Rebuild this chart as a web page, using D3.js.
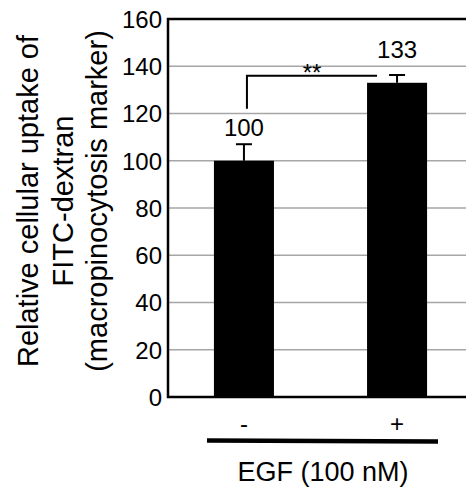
<!DOCTYPE html>
<html>
<head>
<meta charset="utf-8">
<script src="https://cdn.jsdelivr.net/npm/d3@7"></script>
<style>
  body { margin: 0; background: #fff; }
  svg { display: block; font-family: "Liberation Sans", Arial, sans-serif; }
</style>
</head>
<body>
<div id="chart"></div>
<script>
const groups = ['-', '+']
const means = [100, 133]
const errors = [7, 3.3]
const yTicks = [0, 20, 40, 60, 80, 100, 120, 140, 160]
const titleLines = ['Relative cellular uptake of', 'FITC-dextran', '(macropinocytosis marker)']
const xTitle = 'EGF (100 nM)'
const sigLabel = '**'

const width = 466
const height = 489
const plotLeft = 168, plotTop = 19, plotBottom = 397, plotRight = 473

const svg = d3.select('#chart')
  .append('svg')
  .attr('width', width)
  .attr('height', height)

const y = d3.scaleLinear()
  .domain([0, 160])
  .range([plotBottom, plotTop])

const x = d3.scaleBand()
  .domain(groups)
  .range([plotLeft, plotRight])
  .paddingInner(0.608)
  .paddingOuter(0.3)

// gridlines
svg.append('g')
  .selectAll('line')
  .data(yTicks.filter(d => d > 0 && d < 160))
  .enter()
  .append('line')
  .attr('x1', plotLeft)
  .attr('x2', plotRight)
  .attr('y1', d => y(d))
  .attr('y2', d => y(d))
  .attr('stroke', '#a6a6a6')
  .attr('stroke-width', 1.5)

// y axis labels
const yAxis = d3.axisLeft(y).tickValues(yTicks).tickSize(0).tickPadding(6)
const gy = svg.append('g')
  .attr('transform', `translate(${plotLeft}, 0)`)
  .call(yAxis)
gy.select('.domain').remove()
gy.selectAll('text')
  .attr('font-size', 24)
  .attr('font-family', '"Liberation Sans", Arial, sans-serif')
  .attr('fill', '#000')
  .attr('dy', '0.35em')

// bars
svg.append('g')
  .selectAll('rect')
  .data(means)
  .enter()
  .append('rect')
  .attr('x', (d, i) => x(groups[i]))
  .attr('y', d => y(d))
  .attr('width', x.bandwidth())
  .attr('height', d => plotBottom - y(d))
  .attr('fill', '#000')

// error bars (upper only)
const eb = svg.append('g')
  .attr('stroke', '#000')
  .attr('stroke-width', 2)
means.forEach((m, i) => {
  const cx = x(groups[i]) + x.bandwidth() / 2
  eb.append('line')
    .attr('x1', cx).attr('x2', cx)
    .attr('y1', y(m)).attr('y2', y(m + errors[i]))
  eb.append('line')
    .attr('x1', cx - 8).attr('x2', cx + 8)
    .attr('y1', y(m + errors[i])).attr('y2', y(m + errors[i]))
})

// value labels
svg.append('g')
  .selectAll('text')
  .data(means)
  .enter()
  .append('text')
  .attr('x', (d, i) => x(groups[i]) + x.bandwidth() / 2)
  .attr('y', d => y(d) - 25)
  .attr('text-anchor', 'middle')
  .attr('font-size', 24)
  .text(d => d)

// frame: left, top, bottom
svg.append('path')
  .attr('d', `M${plotRight},${plotTop}H${plotLeft}V${plotBottom}H${plotRight}`)
  .attr('fill', 'none')
  .attr('stroke', '#000')
  .attr('stroke-width', 2.5)

// significance bracket
const c1 = x(groups[0]) + x.bandwidth() / 2 + 3
const c2 = x(groups[1]) + x.bandwidth() / 2 - 20
const bracketY = y(136)
svg.append('path')
  .attr('d', `M${c1},${y(122)}V${bracketY}H${c2}`)
  .attr('fill', 'none')
  .attr('stroke', '#000')
  .attr('stroke-width', 2)
svg.append('text')
  .attr('x', (c1 + c2) / 2)
  .attr('y', bracketY + 5)
  .attr('text-anchor', 'middle')
  .attr('font-size', 24)
  .text(sigLabel)

// x category labels
svg.append('g')
  .selectAll('text')
  .data(groups)
  .enter()
  .append('text')
  .attr('x', d => x(d) + x.bandwidth() / 2)
  .attr('y', 432)
  .attr('text-anchor', 'middle')
  .attr('font-size', 24)
  .text(d => d)

// EGF bar under categories
svg.append('line')
  .attr('x1', 207).attr('x2', 438)
  .attr('y1', 440.5).attr('y2', 441.5)
  .attr('stroke', '#000')
  .attr('stroke-width', 4.5)

svg.append('text')
  .attr('x', 323)
  .attr('y', 481)
  .attr('text-anchor', 'middle')
  .attr('font-size', 27)
  .text(xTitle)

// y title
svg.append('g')
  .attr('transform', 'translate(38, 201) rotate(-90)')
  .selectAll('text')
  .data(titleLines)
  .enter()
  .append('text')
  .attr('x', 0)
  .attr('y', (d, i) => i * 34.5)
  .attr('text-anchor', 'middle')
  .attr('font-size', 29)
  .text(d => d)
</script>
</body>
</html>
